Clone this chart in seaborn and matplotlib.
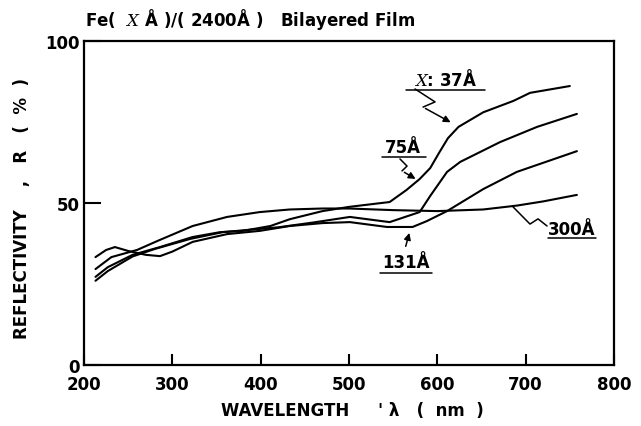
import matplotlib
matplotlib.use("Agg")
import matplotlib.pyplot as plt
import seaborn as sns
import pandas as pd

# ---- data ----
wl_37 = [213, 227, 255, 286, 323, 354, 380, 411, 433, 470, 500, 546, 565, 580, 592, 602, 612, 624, 652, 686, 705, 750]
r_37 = [27.2, 30.2, 34.0, 36.4, 39.5, 41.0, 41.4, 42.9, 45.0, 47.5, 48.8, 50.3, 54.0, 57.4, 60.8, 65.5, 70.0, 73.5, 78.0, 81.5, 84.0, 86.1]

wl_75 = [213, 227, 255, 280, 320, 357, 390, 420, 460, 501, 546, 580, 592, 611, 626, 671, 713, 758]
r_75 = [26.0, 29.0, 33.5, 35.8, 38.9, 41.0, 41.8, 42.5, 44.0, 45.7, 44.1, 47.2, 52.2, 59.6, 62.7, 68.8, 73.5, 77.5]

wl_131 = [213, 225, 235, 250, 270, 286, 300, 323, 362, 399, 433, 470, 501, 543, 572, 588, 611, 652, 690, 758]
r_131 = [33.3, 35.5, 36.4, 35.2, 34.0, 33.6, 35.0, 38.0, 40.4, 41.4, 42.9, 43.8, 44.1, 42.6, 42.6, 44.4, 47.5, 54.3, 59.6, 66.0]

wl_300 = [213, 231, 260, 285, 323, 362, 399, 433, 470, 500, 550, 600, 652, 690, 720, 758]
r_300 = [29.6, 33.3, 35.5, 38.5, 42.9, 45.7, 47.2, 48.0, 48.3, 48.3, 47.8, 47.5, 48.0, 49.2, 50.5, 52.5]

series_names = ["37", "75", "131", "300"]
x_ticks = [200, 300, 400, 500, 600, 700, 800]
y_ticks = [0, 50, 100]

frames = []
for name, wl, r in zip(series_names, [wl_37, wl_75, wl_131, wl_300], [r_37, r_75, r_131, r_300]):
    frames.append(pd.DataFrame({"wl": wl, "R": r, "film": name}))
df = pd.concat(frames, ignore_index=True)

sns.set_style("ticks")
plt.rcParams["font.family"] = ["DejaVu Sans"]
plt.rcParams["mathtext.fontset"] = "dejavuserif"
plt.rcParams["text.color"] = "black"
plt.rcParams["axes.labelcolor"] = "black"
plt.rcParams["xtick.color"] = "black"
plt.rcParams["ytick.color"] = "black"

fig = plt.figure(figsize=(6.41, 4.27), dpi=100)
ax = fig.add_axes([84 / 641, 61 / 427, 530 / 641, 324 / 427])

sns.lineplot(data=df, x="wl", y="R", hue="film", units="film", estimator=None,
             palette={n: "black" for n in series_names}, linewidth=1.5,
             legend=False, ax=ax, sort=False)

ax.set_xlim(200, 800)
ax.set_ylim(0, 100)
ax.set_xticks(x_ticks)
ax.set_xticklabels([str(v) for v in x_ticks], fontsize=12, fontweight="bold")
ax.set_yticks(y_ticks)
ax.set_yticklabels([str(v) for v in y_ticks], fontsize=12, fontweight="bold")
ax.tick_params(axis="x", direction="in", length=8, width=1.5, pad=7)
ax.tick_params(axis="y", direction="in", length=12, width=1.5, pad=3)
for s in ax.spines.values():
    s.set_linewidth(1.6)
    s.set_color("black")

ax.set_xlabel("WAVELENGTH     ' λ   (  nm  )", fontsize=12, fontweight="bold")
ax.xaxis.set_label_coords(0.507, -0.139)
ax.xaxis.label.set_va("center")
ax.set_ylabel("REFLECTIVITY    ,   R   (  %  )", fontsize=12, fontweight="bold")
ax.yaxis.set_label_coords(-0.117, 0.485)
ax.yaxis.label.set_va("center")

fig.text(85 / 641, 1 - 20 / 427, "Fe(  $X$ Å )/( 2400Å )   Bilayered Film",
         fontsize=12, fontweight="bold", ha="left", va="center")

kw = dict(color="black", lw=1.1, clip_on=False)
tkw = dict(fontsize=12, fontweight="bold", ha="center", va="center")

# X: 37 label
ax.text(609, 88.3, "$X$: 37Å", **tkw)
ax.plot([564, 654], [85.0, 85.0], **kw)
ax.plot([574.7, 597.4, 583.8], [85.2, 81.2, 79.6], **kw)
ax.annotate("", xy=(617.8, 74.5), xytext=(583.8, 79.6),
            arrowprops=dict(arrowstyle="-|>", color="black", lw=1.1, mutation_scale=10))

# 75 label
ax.text(561, 67.2, "75Å", **tkw)
ax.plot([537, 587], [64.2, 64.2], **kw)
ax.plot([557.7, 565.7, 560.0], [63.6, 61.4, 59.9], **kw)
ax.annotate("", xy=(578.1, 57.0), xytext=(560.0, 59.9),
            arrowprops=dict(arrowstyle="-|>", color="black", lw=1.1, mutation_scale=10))

# 131 label
ax.text(565, 31.8, "131Å", **tkw)
ax.plot([535, 594], [28.4, 28.4], **kw)
ax.annotate("", xy=(569.1, 41.6), xytext=(563.4, 35.8),
            arrowprops=dict(arrowstyle="-|>", color="black", lw=1.1, mutation_scale=10))

# 300 label
ax.text(752, 42.0, "300Å", **tkw)
ax.plot([725, 780], [39.2, 39.2], **kw)
ax.plot([685.7, 704.9, 714.0, 724.2], [48.8, 43.5, 45.1, 42.9], **kw)

fig.savefig("out.png", dpi=100)
